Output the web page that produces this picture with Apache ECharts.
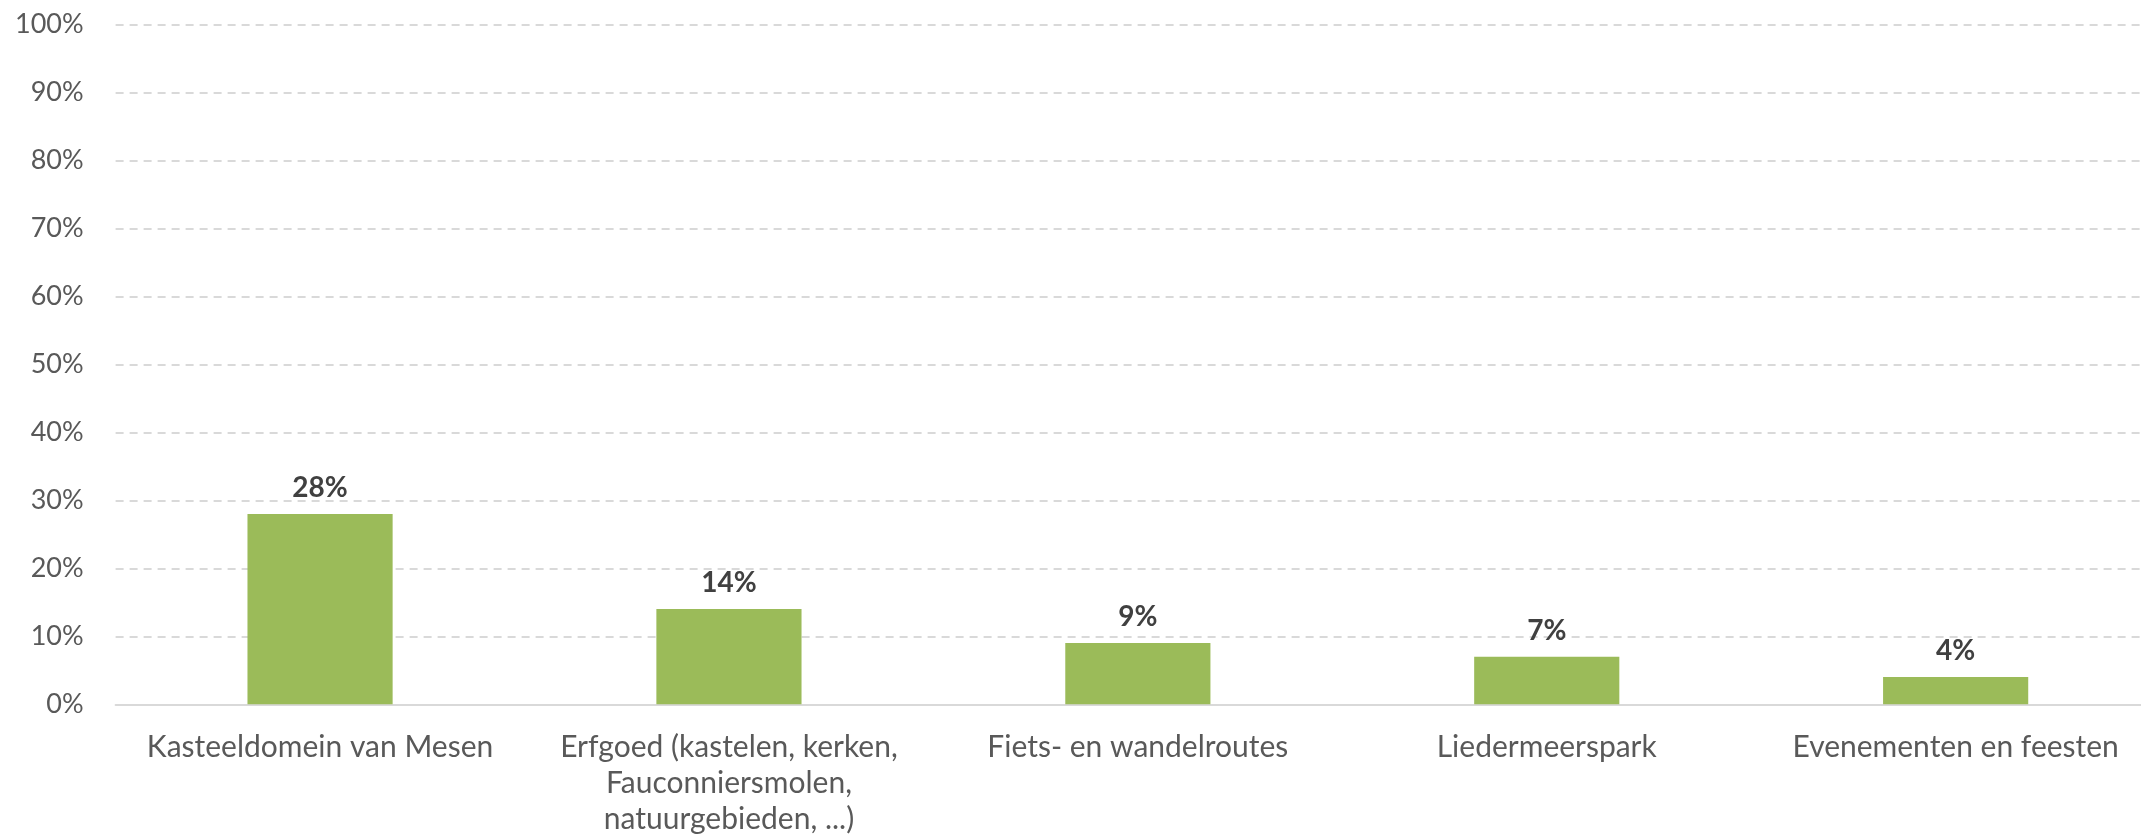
<!DOCTYPE html>
<html>
<head>
<meta charset="utf-8">
<script src="https://cdn.jsdelivr.net/npm/echarts@6/dist/echarts.min.js"></script>
<style>
  html, body { margin: 0; padding: 0; background: #fff; }
  #chart { width: 2141px; height: 837px; }
</style>
</head>
<body>
<div id="chart"></div>
<script>
// Categories (x axis)
const categories = [
  'Kasteeldomein van Mesen',
  'Erfgoed (kastelen, kerken,\nFauconniersmolen,\nnatuurgebieden, ...)',
  'Fiets- en wandelroutes',
  'Liedermeerspark',
  'Evenementen en feesten'
];

// Share of respondents (%)
const shares = [28, 14, 9, 7, 4];

// Y axis range and step (%)
const yMin = 0;
const yMax = 100;
const yStep = 10;

const FONT = 'Lato, "Open Sans", sans-serif';

const chart = echarts.init(document.getElementById('chart'), null, { renderer: 'canvas' });

chart.setOption({
  backgroundColor: '#ffffff',
  animation: false,
  grid: {
    left: 115.6,
    top: 24.3,
    bottom: 132.7,
    width: 2044.5,
    containLabel: false,
    outerBoundsMode: 'none'
  },
  xAxis: {
    type: 'category',
    data: categories,
    axisTick: { show: false },
    axisLine: { show: true, lineStyle: { color: '#d9d9d9', width: 2 } },
    axisLabel: {
      interval: 0,
      margin: 25,
      color: '#595959',
      fontFamily: FONT,
      fontSize: 30,
      lineHeight: 36
    },
    splitLine: { show: false }
  },
  yAxis: {
    type: 'value',
    min: yMin,
    max: yMax,
    interval: yStep,
    axisLine: { show: false },
    axisTick: { show: false },
    axisLabel: {
      margin: 32,
      color: '#595959',
      fontFamily: FONT,
      fontSize: 27,
      formatter: v => v + '%'
    },
    splitLine: {
      show: true,
      lineStyle: { color: '#d9d9d9', width: 2, type: [8, 6] }
    }
  },
  series: [{
    type: 'bar',
    data: shares,
    barWidth: '35.5%',
    itemStyle: { color: '#9bbb59' },
    label: {
      show: true,
      position: 'top',
      distance: 12,
      color: '#404040',
      fontFamily: FONT,
      fontWeight: 'bold',
      fontSize: 28,
      formatter: p => Math.round(p.value) + '%'
    }
  }]
});
</script>
</body>
</html>
